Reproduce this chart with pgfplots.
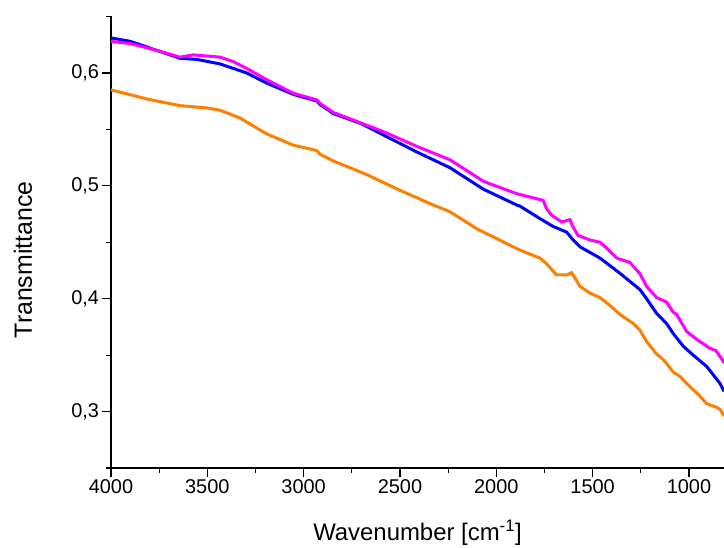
\documentclass[border=0pt]{standalone}
\usepackage{fontspec}
\setmainfont{Liberation Sans}
\usepackage{pgfplots}
\pgfplotsset{compat=1.18}

\definecolor{specblue}{RGB}{0,0,255}
\definecolor{specmag}{RGB}{255,0,255}
\definecolor{specorange}{RGB}{255,128,0}

\begin{document}
\begin{tikzpicture}
\begin{axis}[
  scale only axis,
  width=613bp, height=451.5bp,
  x dir=reverse,
  xmin=818, xmax=4000,
  ymin=0.25, ymax=0.65,
  axis lines=left,
  axis line style={-, line width=1.3bp},
  every tick/.style={black, line width=1.2bp},
  tick align=outside,
  major tick length=8.5bp,
  minor tick length=5bp,
  xtick={1000,1500,...,4000},
  minor xtick={1250,1750,...,3750},
  ytick={0.3,0.4,0.5,0.6},
  minor ytick={0.25,0.35,0.45,0.55,0.65},
  /pgf/number format/assume math mode=true,
  xticklabel style={font=\fontsize{20}{24}\selectfont, /pgf/number format/set thousands separator={}},
  yticklabel style={font=\fontsize{20}{24}\selectfont, /pgf/number format/.cd, fixed, fixed zerofill, precision=1, use comma},
  xlabel={Wavenumber [cm\textsuperscript{-1}]},
  ylabel={Transmittance},
  xlabel style={font=\fontsize{24}{28}\selectfont, at={(axis description cs:0.5,-0.144)}, anchor=center},
  ylabel style={font=\fontsize{25}{29}\selectfont, at={(axis description cs:-0.1436,0.461)}, anchor=center, rotate=0},
  clip=true,
]
\coordinate (bl) at (rel axis cs:0,0);
\coordinate (tr) at (rel axis cs:1,1);

% sample A
\addplot[specorange, line width=3bp] coordinates {
(4000,0.585) (3815,0.577) (3642,0.571) (3503,0.569) (3434,0.567) (3330,0.560)
(3192,0.546) (3054,0.536) (2950,0.532) (2930,0.531) (2915,0.528) (2880,0.525)
(2846,0.522) (2673,0.510) (2500,0.496) (2327,0.483) (2240,0.477) (2102,0.462)
(1877,0.443) (1774,0.436) (1739,0.431) (1687,0.421) (1635,0.421) (1609,0.423)
(1566,0.411) (1514,0.405) (1462,0.401) (1410,0.394) (1358,0.386) (1289,0.378)
(1254,0.372) (1220,0.362) (1168,0.351) (1133,0.346) (1081,0.335) (1046,0.331)
(995,0.322) (950,0.315) (908,0.307) (860,0.304) (839,0.302) (818,0.296)
};

% sample B
\addplot[specblue, line width=3bp] coordinates {
(4000,0.631) (3900,0.628) (3763,0.620) (3642,0.613) (3555,0.612) (3434,0.608)
(3296,0.600) (3192,0.591) (3054,0.581) (2950,0.576) (2930,0.575) (2915,0.572)
(2880,0.568) (2846,0.564) (2700,0.555) (2586,0.545) (2413,0.530) (2240,0.516)
(2067,0.497) (1894,0.483) (1877,0.482) (1774,0.471) (1705,0.464) (1635,0.459)
(1601,0.452) (1566,0.446) (1462,0.436) (1358,0.4225) (1254,0.408) (1220,0.400)
(1168,0.387) (1116,0.378) (1081,0.369) (1030,0.358) (978,0.350) (908,0.340)
(839,0.325) (818,0.318)
};

% sample C
\addplot[specmag, line width=3bp] coordinates {
(4000,0.628) (3900,0.626) (3763,0.620) (3642,0.614) (3573,0.616) (3434,0.614)
(3365,0.610) (3296,0.604) (3192,0.594) (3054,0.582) (2950,0.577) (2930,0.576)
(2915,0.573) (2880,0.569) (2846,0.565) (2586,0.548) (2413,0.535) (2240,0.523)
(2067,0.504) (1894,0.493) (1800,0.489) (1756,0.487) (1740,0.480) (1713,0.474)
(1661,0.468) (1618,0.470) (1600,0.463) (1575,0.456) (1514,0.452) (1462,0.450)
(1428,0.445) (1375,0.436) (1306,0.432) (1254,0.422) (1220,0.411) (1168,0.401)
(1116,0.397) (1081,0.388) (1064,0.386) (1012,0.371) (960,0.364) (926,0.360)
(891,0.356) (860,0.354) (823,0.345) (818,0.343)
};
\end{axis}
\pgfresetboundingbox
\useasboundingbox ([shift={(-111bp,-80bp)}]bl) rectangle ([shift={(0bp,16.5bp)}]tr);
\end{tikzpicture}
\end{document}
